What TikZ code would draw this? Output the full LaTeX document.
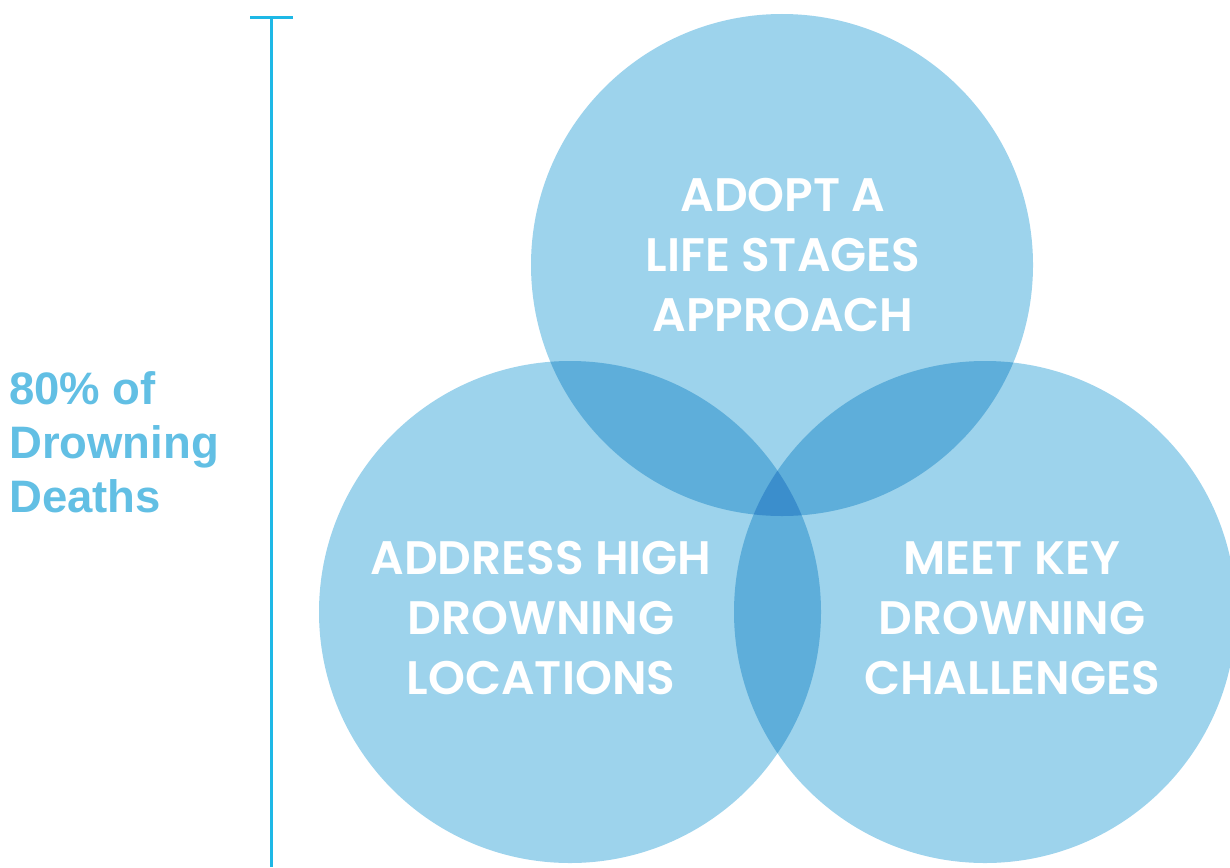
\documentclass[tikz,border=0pt]{standalone}
\usepackage{fontspec}
\newfontfamily\circfont{Poppins}[UprightFont=* SemiBold]
\newfontfamily\sidefont{Liberation Sans}[UprightFont=* Bold]
\definecolor{light}{HTML}{9DD3EC}
\definecolor{mid}{HTML}{5EAEDA}
\definecolor{dark}{HTML}{3B8ECC}
\definecolor{linec}{HTML}{1EB8E6}
\definecolor{sidec}{HTML}{62BFE4}
\tikzset{
  circtext/.style={text=white, align=center, font=\circfont\fontsize{47}{60}\selectfont, inner sep=0pt},
  sidetext/.style={text=sidec, align=left, font=\sidefont\fontsize{45.5}{54}\selectfont, inner sep=0pt, anchor=north west},
  scale line/.style={draw=linec, line width=3pt}
}
\begin{document}
\begin{tikzpicture}[x=1pt,y=-1pt]
\useasboundingbox (0,0) rectangle (1230,867);
\begin{scope}
\clip (0,0) rectangle (1230,867);
\def\rr{251}
\coordinate (A) at (782,265);
\coordinate (B) at (570,612);
\coordinate (C) at (985,612);
\fill[light] (A) circle (\rr);
\fill[light] (B) circle (\rr);
\fill[light] (C) circle (\rr);
\begin{scope}\clip (A) circle (\rr); \fill[mid] (B) circle (\rr); \fill[mid] (C) circle (\rr);\end{scope}
\begin{scope}\clip (B) circle (\rr); \fill[mid] (C) circle (\rr);\end{scope}
\begin{scope}\clip (A) circle (\rr); \clip (B) circle (\rr); \fill[dark] (C) circle (\rr);\end{scope}
\end{scope}
\node[circtext] (ta) at (783,255) {ADOPT A\\LIFE STAGES\\APPROACH};
\node[circtext] (tb) at (541,618) {ADDRESS HIGH\\DROWNING\\LOCATIONS};
\node[circtext] (tc) at (1012,618) {MEET KEY\\DROWNING\\CHALLENGES};
\coordinate (lt) at (271,18);
\coordinate (lb) at (271,867);
\coordinate (tl) at (250,18);
\coordinate (tr) at (293,18);
\draw[scale line] (lt) -- (lb);
\draw[scale line] (tl) -- (tr);
\node[sidetext] (side) at (9,371) {80\% of\\Drowning\\Deaths};
\end{tikzpicture}
\end{document}
